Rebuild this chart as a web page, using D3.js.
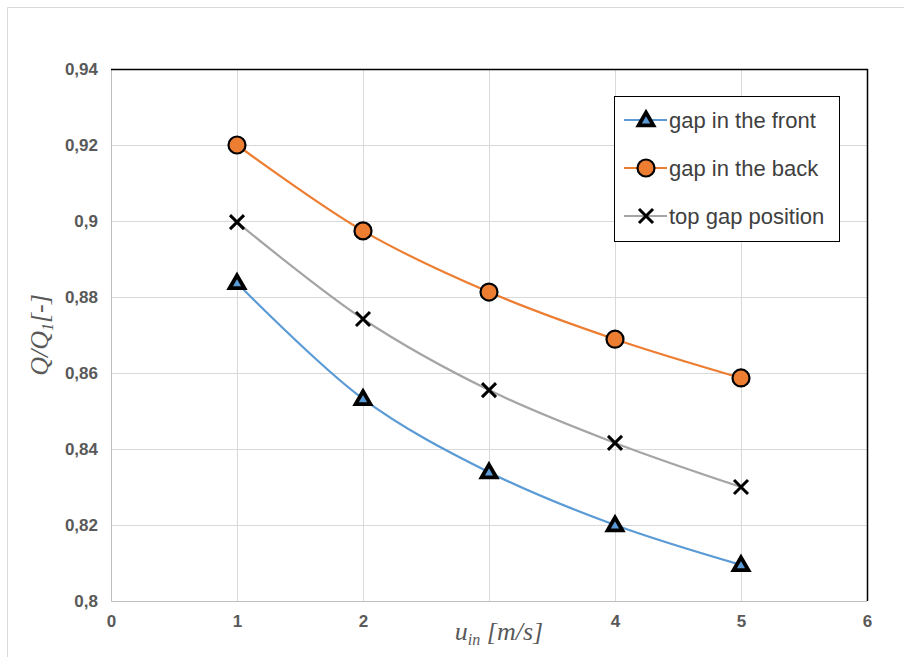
<!DOCTYPE html>
<html><head><meta charset="utf-8">
<script src="https://cdn.jsdelivr.net/npm/d3@7"></script>
<style>body{margin:0;background:#fff}svg{display:block}</style>
</head><body>
<script>
const xValues = [1, 2, 3, 4, 5];
const seriesNames = ["gap in the front", "gap in the back", "top gap position"];
const frontValues = [0.8837, 0.8532, 0.8339, 0.8200, 0.8095];
const backValues = [0.9200, 0.8974, 0.8813, 0.8689, 0.8587];
const topValues = [0.8997, 0.8742, 0.8555, 0.8416, 0.8300];
const xTicks = [0, 1, 2, 3, 4, 5, 6];
// the "3" label is hidden behind the axis title in the reference
const xTickLabels = ["0", "1", "2", "", "4", "5", "6"];
const yTicks = [0.80, 0.82, 0.84, 0.86, 0.88, 0.90, 0.92, 0.94];
const yTickLabels = ["0,8", "0,82", "0,84", "0,86", "0,88", "0,9", "0,92", "0,94"];

const W = 904, H = 657;
const m = {l:111, r:867, t:69, b:601};
const svg = d3.select("body").append("svg").attr("width", W).attr("height", H);
svg.append("rect").attr("x",0).attr("y",0).attr("width",W).attr("height",H).attr("fill","#fff");
svg.append("path").attr("d",`M7.5,${H} V7.5 H${W}`).attr("fill","none").attr("stroke","#d9d9d9").attr("stroke-width",1);

const x = d3.scaleLinear().domain([0,6]).range([m.l,m.r]);
const y = d3.scaleLinear().domain([0.8,0.94]).range([m.b,m.t]);

const g = svg.append("g");
g.selectAll(".hg").data(yTicks).join("line")
  .attr("x1",m.l).attr("x2",m.r).attr("y1",d=>Math.round(y(d))+0.5).attr("y2",d=>Math.round(y(d))+0.5)
  .attr("stroke","#d9d9d9").attr("stroke-width",1);
g.selectAll(".vg").data(xTicks).join("line")
  .attr("y1",m.t).attr("y2",m.b).attr("x1",d=>Math.round(x(d))+0.5).attr("x2",d=>Math.round(x(d))+0.5)
  .attr("stroke","#d9d9d9").attr("stroke-width",1);
svg.append("path").attr("d",`M${m.l+0.5},${m.t} V${m.b+0.5} H${m.r}`).attr("fill","none").attr("stroke","#bfbfbf").attr("stroke-width",1);
svg.append("path").attr("d",`M${m.l},${m.t+0.5} H${m.r+0.5} V${m.b}`).attr("fill","none").attr("stroke","#000").attr("stroke-width",1.5);

const yAxis = d3.axisLeft(y).tickValues(yTicks).tickSize(0).tickPadding(13)
  .tickFormat((d,i) => yTickLabels[i]);
const ya = svg.append("g").attr("transform",`translate(${m.l},0)`).call(yAxis);
ya.select(".domain").remove();
ya.selectAll("text").attr("font-family","Liberation Sans, Arial, sans-serif").attr("font-size",17).attr("font-weight","bold").attr("fill","#595959");

const xAxis = d3.axisBottom(x).tickValues(xTicks).tickSize(0).tickPadding(14).tickFormat((d,i) => xTickLabels[i]);
const xa = svg.append("g").attr("transform",`translate(0,${m.b})`).call(xAxis);
xa.select(".domain").remove();
xa.selectAll("text").attr("font-family","Liberation Sans, Arial, sans-serif").attr("font-size",17).attr("font-weight","bold").attr("fill","#595959");

const xt = svg.append("text").attr("x",499).attr("y",640).attr("text-anchor","middle")
  .attr("font-family","Liberation Serif, DejaVu Serif, serif").attr("font-style","italic").attr("font-size",26).attr("fill","#595959");
xt.append("tspan").text("u");
xt.append("tspan").attr("font-size",16).attr("dy",5).text("in");
xt.append("tspan").attr("dy",-5).text(" [m/s]");

const yt = svg.append("text").attr("transform","translate(48,335) rotate(-90)").attr("text-anchor","middle")
  .attr("font-family","Liberation Serif, DejaVu Serif, serif").attr("font-style","italic").attr("font-size",26).attr("fill","#595959");
yt.append("tspan").text("Q/Q");
yt.append("tspan").attr("font-size",16).attr("dy",5).text("1");
yt.append("tspan").attr("dy",-5).text("[-]");

const series = [
  {name:seriesNames[0], values:frontValues, color:"#5B9BD5", marker:"tri"},
  {name:seriesNames[1], values:backValues, color:"#ED7D31", marker:"circ"},
  {name:seriesNames[2], values:topValues, color:"#A5A5A5", marker:"x"}
];
const line = d3.line().x(d=>x(d[0])).y(d=>y(d[1])).curve(d3.curveCatmullRom.alpha(0.5));

function drawMarker(sel, type, color){
  if(type==="tri"){
    sel.append("path").attr("d",d3.symbol(d3.symbolTriangle,95)())
      .attr("transform","translate(0,1)")
      .attr("fill",color).attr("stroke","#000").attr("stroke-width",3.8).attr("stroke-linejoin","miter");
  } else if(type==="circ"){
    sel.append("circle").attr("r",8.5).attr("fill",color).attr("stroke","#000").attr("stroke-width",2.2);
  } else {
    sel.append("path").attr("d","M-7,-7L7,7M-7,7L7,-7").attr("stroke","#000").attr("stroke-width",3).attr("fill","none");
  }
}

series.forEach(s=>{
  const pts = xValues.map((xv,i)=>[xv,s.values[i]]);
  svg.append("path").datum(pts).attr("d",line).attr("fill","none").attr("stroke",s.color).attr("stroke-width",2.2);
  svg.append("g").selectAll("g").data(pts).join("g")
    .attr("transform",d=>`translate(${x(d[0])},${y(d[1])})`)
    .each(function(){ drawMarker(d3.select(this), s.marker, s.color); });
});

const lg = svg.append("g");
lg.append("rect").attr("x",614.5).attr("y",96.5).attr("width",225).attr("height",145).attr("fill","#fff").attr("stroke","#000").attr("stroke-width",1);
series.forEach((s,i)=>{
  const cy = 120 + i*48;
  const r = lg.append("g");
  r.append("line").attr("x1",624).attr("x2",667).attr("y1",cy).attr("y2",cy).attr("stroke",s.color).attr("stroke-width",2.2);
  const mg = r.append("g").attr("transform",`translate(646,${cy})`);
  drawMarker(mg, s.marker, s.color);
  r.append("text").attr("x",669).attr("y",cy).attr("dy","0.35em")
    .attr("font-family","Liberation Sans, Arial, sans-serif").attr("font-size",22).attr("fill","#404040").text(s.name);
});
</script>
</body></html>
